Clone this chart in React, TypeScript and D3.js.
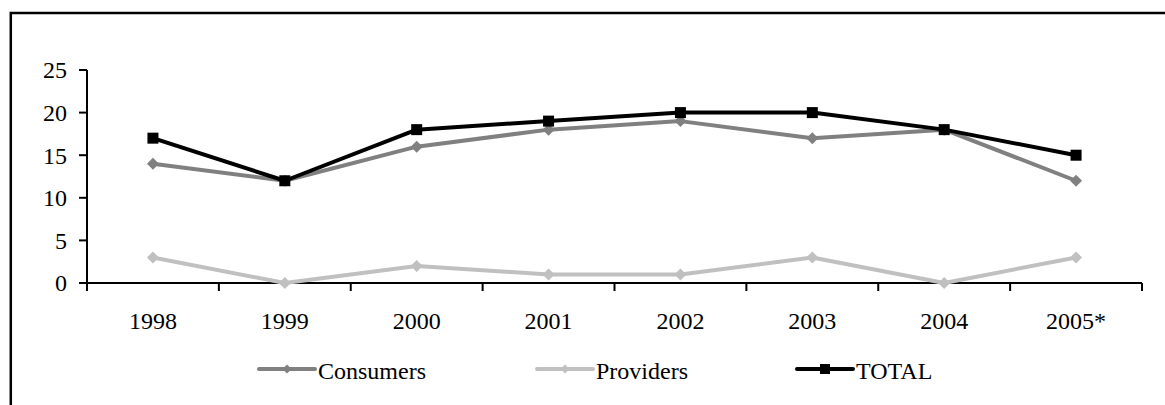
import React from "react";
import * as d3 from "d3";

const categories = ["1998", "1999", "2000", "2001", "2002", "2003", "2004", "2005*"];
const consumers = [14, 12, 16, 18, 19, 17, 18, 12];
const providers = [3, 0, 2, 1, 1, 3, 0, 3];
const total = [17, 12, 18, 19, 20, 20, 18, 15];
const yTicks = [0, 5, 10, 15, 20, 25];

const FONT = "'Liberation Serif', 'Times New Roman', serif";

export default function App() {
  const W = 1165, H = 405;
  const x0 = 87, x1 = 1142, yTop = 70, yBot = 283;
  const x = d3.scaleBand<string>().domain(categories).range([x0, x1]);
  const y = d3.scaleLinear().domain([0, 25]).range([yBot, yTop]);
  const cx = (c: string) => (x(c) as number) + x.bandwidth() / 2;
  const line = d3.line<number>().x((_, i) => cx(categories[i])).y((d) => y(d));

  const series = [
    { name: "Consumers", data: consumers, color: "#808080", marker: "diamond", lx: 259 },
    { name: "Providers", data: providers, color: "#c0c0c0", marker: "diamond", lx: 537 },
    { name: "TOTAL", data: total, color: "#000000", marker: "square", lx: 797 },
  ];

  const marker = (m: string, px: number, py: number, color: string, s: number, key: any) =>
    m === "square" ? (
      <rect key={key} x={px - s / 2} y={py - s / 2} width={s} height={s} fill={color} />
    ) : (
      <path key={key} d={`M${px},${py - s / 2}L${px + s / 2},${py}L${px},${py + s / 2}L${px - s / 2},${py}Z`} fill={color} />
    );

  return (
    <svg width={W} height={H} style={{ position: "absolute", left: 0, top: 0, background: "#fff" }}>
      <rect x={0} y={0} width={W} height={H} fill="#fff" />
      <path d={`M10.8,${H + 5}V13H${W + 5}`} fill="none" stroke="#000" strokeWidth={2.5} />
      {/* y axis */}
      <line x1={x0} x2={x0} y1={yTop} y2={yBot} stroke="#000" strokeWidth={2} />
      {yTicks.map((t) => (
        <g key={t}>
          <line x1={x0 - 8} x2={x0} y1={y(t)} y2={y(t)} stroke="#000" strokeWidth={2} />
          <text x={67} y={y(t)} dy="0.35em" textAnchor="end" fontFamily={FONT} fontSize={24} fill="#000">
            {t}
          </text>
        </g>
      ))}
      {/* x axis */}
      <line x1={x0} x2={x1} y1={yBot} y2={yBot} stroke="#000" strokeWidth={2} />
      {[...categories.map((c) => x(c) as number), x1].map((v, i) => (
        <line key={i} x1={v} x2={v} y1={yBot} y2={yBot + 8} stroke="#000" strokeWidth={2} />
      ))}
      {categories.map((c) => (
        <text key={c} x={cx(c)} y={329} textAnchor="middle" fontFamily={FONT} fontSize={24} fill="#000">
          {c}
        </text>
      ))}
      {/* series */}
      {series.map((s) => (
        <g key={s.name}>
          <path d={line(s.data) as string} fill="none" stroke={s.color} strokeWidth={4} strokeLinejoin="round" />
          {s.data.map((d, i) =>
            marker(s.marker, cx(categories[i]), y(d), s.color, s.marker === "square" ? 11 : 12, i)
          )}
        </g>
      ))}
      {/* legend */}
      {series.map((s) => (
        <g key={"lg" + s.name}>
          <line x1={s.lx} x2={s.lx + 56} y1={369} y2={369} stroke={s.color} strokeWidth={4} strokeLinecap="round" />
          {marker(s.marker, s.lx + 28, 369, s.color, s.marker === "square" ? 10 : 9, "m")}
          <text x={s.lx + 59} y={379} fontFamily={FONT} fontSize={24} fill="#000">
            {s.name}
          </text>
        </g>
      ))}
    </svg>
  );
}
